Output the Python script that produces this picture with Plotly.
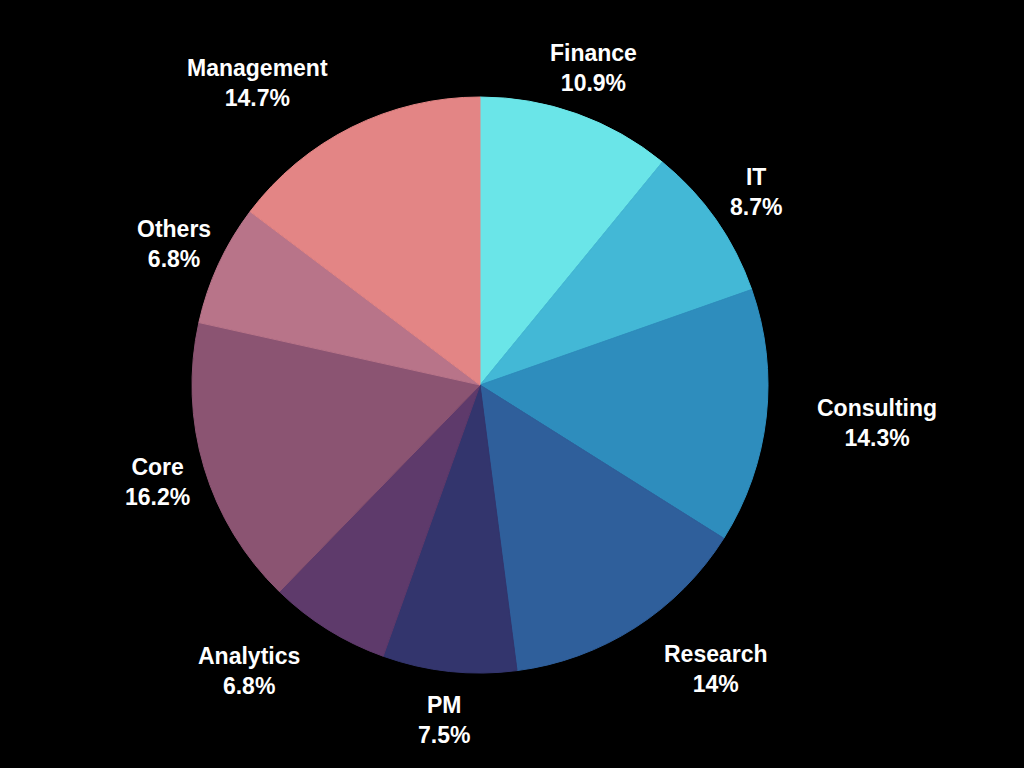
import math
import plotly.graph_objects as go

labels = ["Finance", "IT", "Consulting", "Research", "PM", "Analytics", "Core", "Others", "Management"]
values = [10.9, 8.7, 14.3, 14, 7.5, 6.8, 16.2, 6.8, 14.7]
colors = ["#6ae5e8", "#43b8d6", "#2e8dbd", "#2f5f9b", "#33356d", "#5e3a6b", "#8b5472", "#b87489", "#e38585"]
# horizontal anchoring of each label block (style)
label_anchor = ["center", "center", "left", "left", "center", "right", "center", "center", "right"]

W, H = 1024, 768
CX, CY = 480, 385      # pie centre, pixels from top-left
R = 288                # pie radius, pixels
label_dist = 1.17      # label anchor distance, in pie radii

fig = go.Figure()
fig.add_trace(go.Pie(
    labels=labels,
    values=values,
    sort=False,
    direction="clockwise",
    rotation=0,
    marker=dict(colors=colors, line=dict(width=1, color=colors)),
    textinfo="none",
    showlegend=False,
    hoverinfo="label+value",
    domain=dict(x=[(CX - R) / W, (CX + R) / W],
                y=[(H - CY - R) / H, (H - CY + R) / H]),
))

total = sum(values)
ax, ay = [], []
cum = 0.0
for v in values:
    th = 2 * math.pi * (cum + v / 2) / total
    ax.append(label_dist * math.sin(th))
    ay.append(label_dist * math.cos(th))
    cum += v

fig.add_trace(go.Scatter(
    x=ax, y=ay, mode="markers", marker=dict(size=1, opacity=0),
    hoverinfo="skip", showlegend=False,
))

for lab, v, x, y, anc in zip(labels, values, ax, ay, label_anchor):
    fig.add_annotation(
        x=x, y=y, xref="x", yref="y",
        text=f"{lab}<br>{v:g}%",
        showarrow=False,
        xanchor=anc, yanchor="middle", align="center",
        font=dict(family="Liberation Sans, Arial, sans-serif", size=23, color="white", weight="bold"),
    )

fig.update_layout(
    width=W, height=H,
    paper_bgcolor="black", plot_bgcolor="black",
    margin=dict(l=0, r=0, t=0, b=0),
    xaxis=dict(range=[-CX / R, (W - CX) / R], visible=False, fixedrange=True, domain=[0, 1]),
    yaxis=dict(range=[-(H - CY) / R, CY / R], visible=False, fixedrange=True, domain=[0, 1]),
)
fig.write_html(
    "out.html",
    config={"displayModeBar": False},
    post_script="document.body.style.margin='0';document.body.style.background='black';document.body.style.overflow='hidden';",
)
